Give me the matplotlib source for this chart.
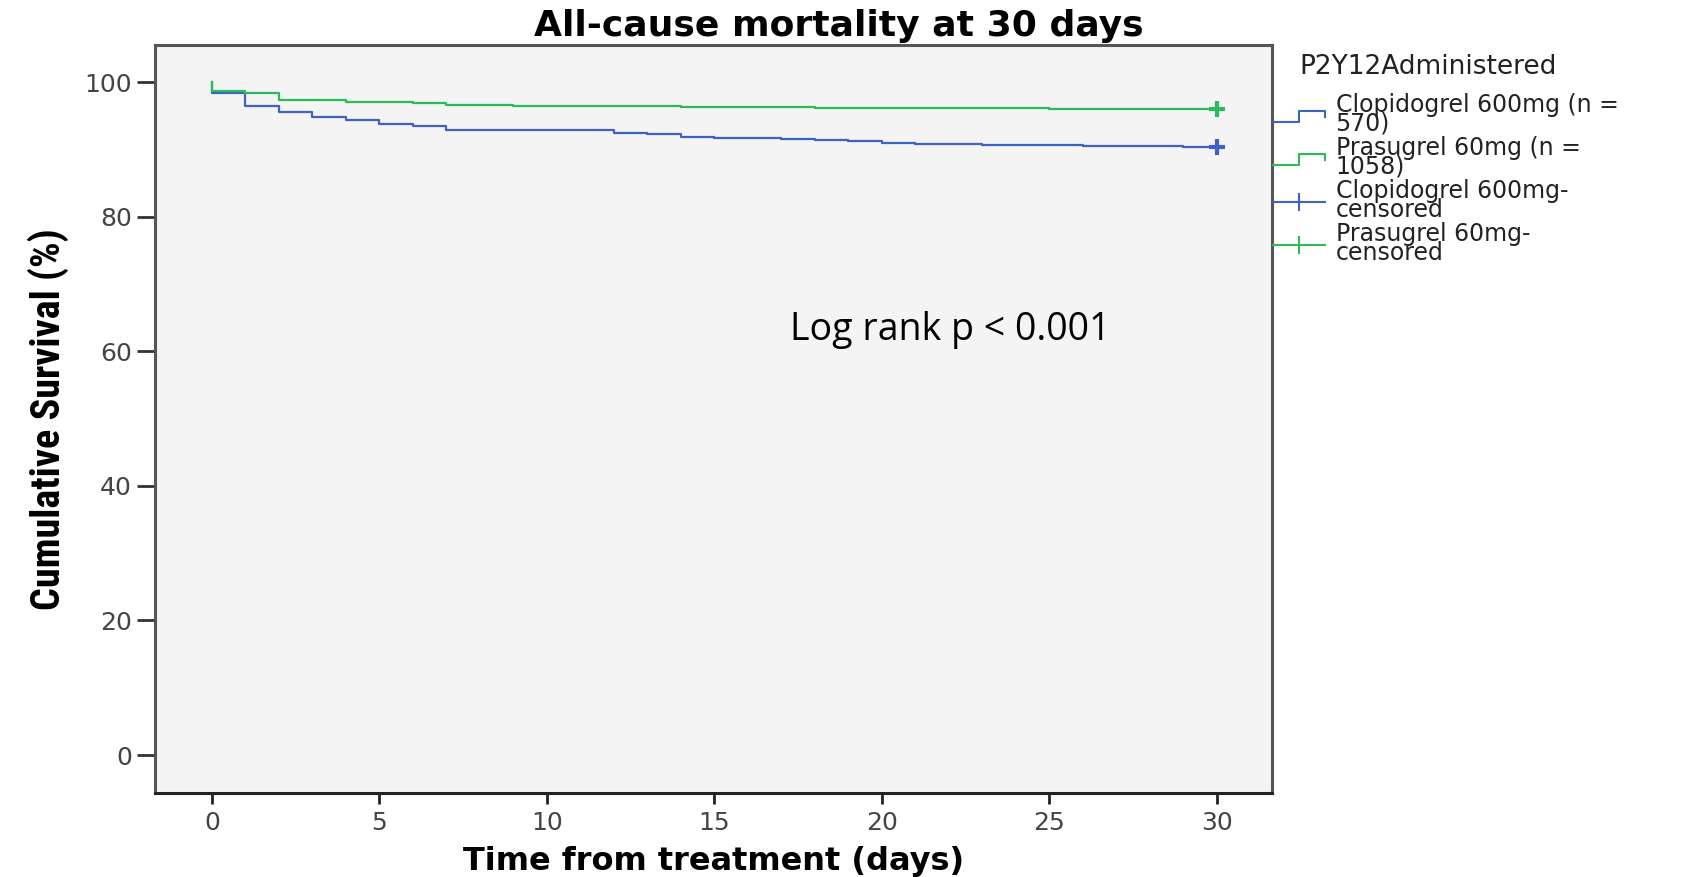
import numpy as np
import matplotlib
matplotlib.use('Agg')
import matplotlib.pyplot as plt
from matplotlib import font_manager
from matplotlib.lines import Line2D
from matplotlib.legend_handler import HandlerBase

BLUE, GREEN = '#3f62c2', '#2bbb5a'

# Kaplan-Meier steps (days, % surviving)
clop_t = [0, 0, 1, 2, 3, 4, 5, 6, 7, 9, 12, 13, 14, 15, 17, 18, 19, 20, 21, 23, 26, 29, 30]
clop_s = [100, 98.4, 96.5, 95.5, 94.8, 94.4, 93.8, 93.4, 92.9, 92.8, 92.45, 92.25, 91.9,
          91.75, 91.55, 91.35, 91.2, 91.0, 90.8, 90.65, 90.5, 90.35, 90.35]
pras_t = [0, 0, 1, 2, 4, 5, 6, 7, 9, 14, 18, 25, 30]
pras_s = [100, 98.7, 98.4, 97.3, 97.1, 97.0, 96.9, 96.6, 96.4, 96.3, 96.15, 96.0, 96.0]
clop_cens_t, clop_cens_s = [30], [90.35]
pras_cens_t, pras_cens_s = [30], [96.0]

x_ticks = [0, 5, 10, 15, 20, 25, 30]
y_ticks = [0, 20, 40, 60, 80, 100]
legend_labels = ['Clopidogrel 600mg (n =\n570)', 'Prasugrel 60mg (n =\n1058)',
                 'Clopidogrel 600mg-\ncensored', 'Prasugrel 60mg-\ncensored']

names = {f.name for f in font_manager.fontManager.ttflist}
COND = next((n for n in ['Liberation Sans Narrow', 'DejaVu Sans Condensed', 'Roboto Condensed']
             if n in names), 'DejaVu Sans')
LOGFONT = next((n for n in ['Open Sans', 'Lato', 'DejaVu Sans'] if n in names), 'DejaVu Sans')


class StepHandler(HandlerBase):
    """Little step glyph like the SPSS survival legend."""
    def create_artists(self, legend, orig_handle, xdescent, ydescent, width, height, fontsize, trans):
        x0, y0 = -xdescent, -ydescent
        xs = [x0, x0 + width * 0.5, x0 + width * 0.5, x0 + width, x0 + width]
        ys = [y0 + height * 0.1, y0 + height * 0.1, y0 + height * 0.8, y0 + height * 0.8, y0 + height * 0.4]
        ln = Line2D(xs, ys, color=orig_handle.get_color(), lw=orig_handle.get_linewidth(), transform=trans)
        return [ln]


fig = plt.figure(figsize=(16.97, 8.77), dpi=100)
ax = fig.add_axes([0.0913, 0.0961, 0.6583, 0.8526])
ax.set_facecolor('#f4f4f4')

ax.step(clop_t, clop_s, where='post', color=BLUE, lw=1.6)
ax.step(pras_t, pras_s, where='post', color=GREEN, lw=1.6)
ax.plot(clop_cens_t, clop_cens_s, ls='none', marker='+', ms=12, mew=3, color=BLUE)
ax.plot(pras_cens_t, pras_cens_s, ls='none', marker='+', ms=12, mew=3, color=GREEN)

ax.set_xlim(-1.7, 31.65)
ax.set_ylim(-5.6, 105.5)
ax.set_xticks(x_ticks)
ax.set_yticks(y_ticks)
ax.tick_params(axis='x', length=8, width=2, pad=5, labelsize=18, labelcolor='#444', color='#222')
ax.tick_params(axis='y', length=13, width=2, pad=3.5, labelsize=18, labelcolor='#444', color='#333')
for side, sp in ax.spines.items():
    sp.set_linewidth(2.2)
    sp.set_color('#555' if side != 'bottom' else '#222')

ax.set_xlabel('Time from treatment (days)', fontsize=23, fontweight='bold', labelpad=8)
ax.set_ylabel('Cumulative Survival (%)', fontsize=29, fontweight='bold', family=COND, labelpad=11)
fig.text(0.494, 1 - 36 / 877, 'All-cause mortality at 30 days', ha='center', va='baseline',
         fontsize=26, fontweight='bold')

ax.text(17.26, 63.2, 'Log rank p < 0.001', ha='left', va='center', fontsize=27, family=LOGFONT)

# legend
fig.text(1299 / 1697, 1 - 67 / 877, 'P2Y12Administered', ha='left', va='center', fontsize=19, color='#222')
h_clop = Line2D([], [], color=BLUE, lw=1.5)
h_pras = Line2D([], [], color=GREEN, lw=1.5)
h_clop_c = Line2D([], [], color=BLUE, lw=1.5, marker='|', ms=13, mew=1.5)
h_pras_c = Line2D([], [], color=GREEN, lw=1.5, marker='|', ms=13, mew=1.5)
leg = ax.legend([h_clop, h_pras, h_clop_c, h_pras_c], legend_labels,
                handler_map={h_clop: StepHandler(), h_pras: StepHandler()},
                loc='upper left', bbox_to_anchor=(1273 / 1697, 1 - 93 / 877), bbox_transform=fig.transFigure,
                frameon=False, fontsize=17, handlelength=2.2, handletextpad=0.45, labelspacing=0.02,
                borderpad=0, borderaxespad=0, numpoints=1)
for t in leg.get_texts():
    t.set_linespacing(0.72)
    t.set_color('#222')

plt.savefig('out.png', dpi=100)
plt.close()
